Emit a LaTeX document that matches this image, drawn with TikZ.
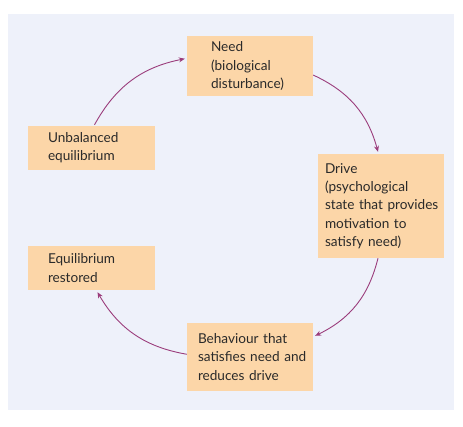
\documentclass[tikz,border=0pt]{standalone}
\usepackage{fontspec}
\setmainfont{Lato}
\usetikzlibrary{arrows.meta,calc}
\definecolor{panelbg}{HTML}{EEF1FA}
\definecolor{boxfill}{HTML}{FCD6A8}
\definecolor{arrowc}{HTML}{9B3D7C}
\definecolor{textc}{HTML}{2A2A2A}
\tikzset{
  box/.style={rectangle, fill=boxfill, draw=none, inner xsep=0pt, inner ysep=0pt,
    align=left, text=textc, font=\fontsize{13.6}{18.3}\selectfont},
  cyc/.style={draw=arrowc, line width=0.9pt, -{Stealth[length=6pt,width=5pt]}}
}
\begin{document}
\begin{tikzpicture}[x=1pt,y=-1pt]
\useasboundingbox (0,0) rectangle (463,427);
\fill[white] (0,0) rectangle (463,427);
\fill[panelbg] (8,14) rectangle (454,410);

\node[box, minimum width=126pt, minimum height=60pt, text width=78pt] (need) at (250,66)
  {\mbox{Need}\\\mbox{(biological}\\\mbox{disturbance)}};
\node[box, minimum width=127pt, minimum height=44pt, text width=87pt] (unb) at (91.5,148)
  {\mbox{Unbalanced}\\\mbox{equilibrium}};
\node[box, minimum width=126pt, minimum height=104pt, text width=112pt] (drive) at (381,206)
  {\mbox{Drive}\\\mbox{(psychological}\\\mbox{state that provides}\\\mbox{motivation to}\\\mbox{satisfy need)}};
\node[box, minimum width=127pt, minimum height=44pt, text width=87pt] (eq) at (91.5,268)
  {\mbox{Equilibrium}\\\mbox{restored}};
\node[box, minimum width=126pt, minimum height=68pt, text width=104pt] (beh) at (250,357)
  {\mbox{Behaviour that}\\\mbox{satisfies need and}\\\mbox{reduces drive}};

\coordinate (a1s) at ($(unb.north)+(3,-1)$);
\coordinate (a1e) at ($(need.north west)!0.38!(need.south west)+(-2,0)$);
\coordinate (a2s) at ($(need.north east)!0.65!(need.south east)$);
\coordinate (a2e) at ($(drive.north)+(-3,-2)$);
\coordinate (a3s) at ($(drive.south)+(-3,0)$);
\coordinate (a3e) at ($(beh.north east)!0.19!(beh.south east)+(2,0)$);
\coordinate (a4s) at ($(beh.north west)!0.46!(beh.south west)$);
\coordinate (a4e) at ($(eq.south)+(6,2)$);

\draw[cyc] (a1s) to[bend left=25] (a1e);
\draw[cyc] (a2s) to[bend left=25] (a2e);
\draw[cyc] (a3s) to[bend left=25] (a3e);
\draw[cyc] (a4s) to[bend left=25] (a4e);
\end{tikzpicture}
\end{document}
